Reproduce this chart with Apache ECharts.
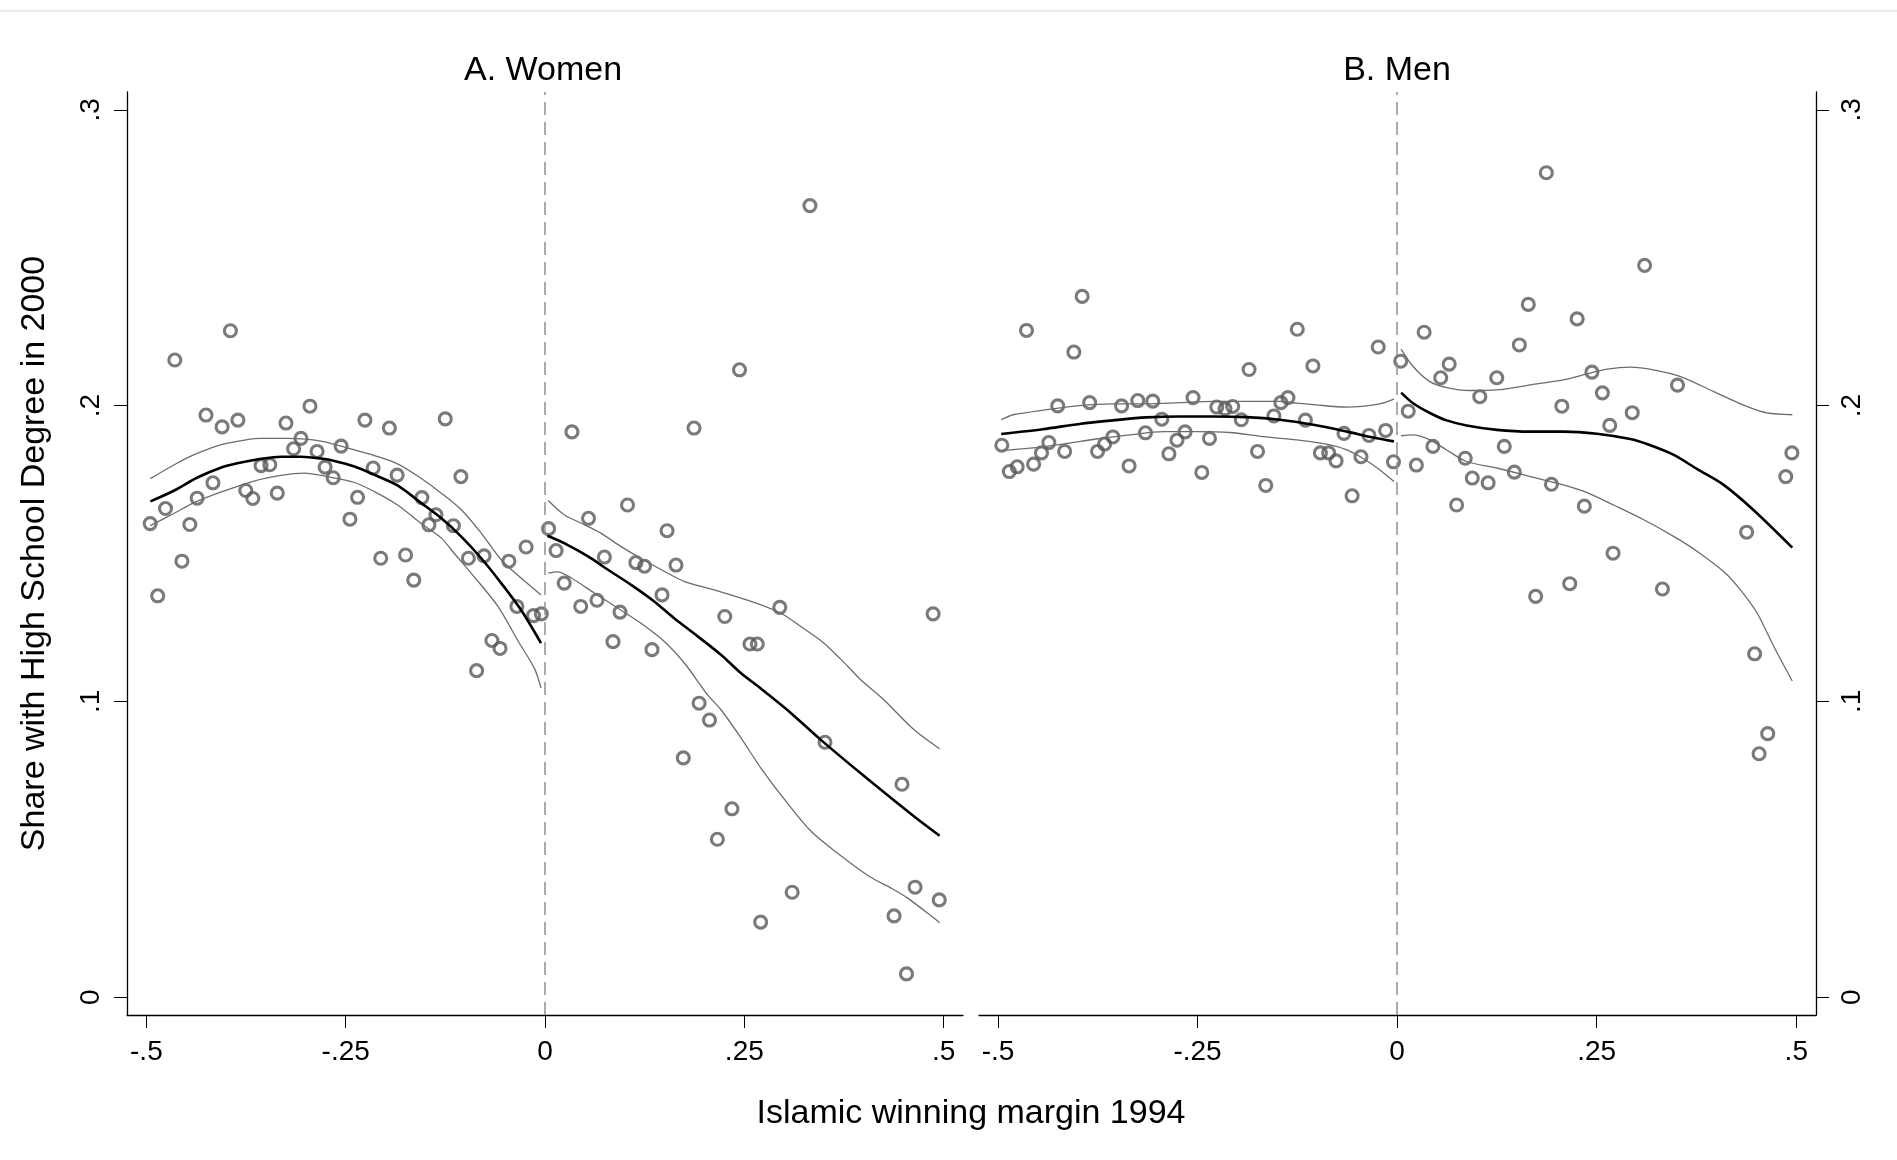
<!DOCTYPE html>
<html>
<head>
<meta charset="utf-8">
<script src="https://cdn.jsdelivr.net/npm/echarts@6/dist/echarts.min.js"></script>
<style>
html,body{margin:0;padding:0;background:#fff;}
#chart{width:1897px;height:1160px;}
</style>
</head>
<body>
<div id="chart"></div>
<script>
// ---- data ----
const marginBins = [-0.4952,-0.4858,-0.4760,-0.4643,-0.4554,-0.4455,-0.4363,-0.4252,-0.4165,-0.4050,
  -0.3946,-0.3852,-0.3753,-0.3665,-0.3561,-0.3452,-0.3358,-0.3249,-0.3153,-0.3061,
  -0.2948,-0.2859,-0.2758,-0.2657,-0.2557,-0.2447,-0.2351,-0.2259,-0.2156,-0.2060,
  -0.1952,-0.1855,-0.1749,-0.1646,-0.1544,-0.1456,-0.1368,-0.1251,-0.1149,-0.1055,
  -0.0961,-0.0858,-0.0765,-0.0666,-0.0564,-0.0453,-0.0353,-0.0237,-0.0144,-0.0046,
  0.0045,0.0139,0.0241,0.0338,0.0448,0.0546,0.0652,0.0745,0.0853,0.0941,
  0.1035,0.1140,0.1248,0.1342,0.1468,0.1531,0.1643,0.1735,0.1869,0.1933,
  0.2063,0.2162,0.2255,0.2345,0.2440,0.2571,0.2663,0.2705,0.2945,0.3100,
  0.3323,0.3512,0.4378,0.4478,0.4534,0.4642,0.4868,0.4945];

const womenShare = [0.1601,0.1357,0.1652,0.2154,0.1474,0.1598,0.1687,0.1968,0.1739,0.1928,
  0.2253,0.1951,0.1713,0.1686,0.1797,0.1800,0.1704,0.1941,0.1854,0.1889,
  0.1998,0.1845,0.1792,0.1756,0.1863,0.1616,0.1690,0.1951,0.1789,0.1484,
  0.1924,0.1765,0.1495,0.1410,0.1689,0.1597,0.1631,0.1955,0.1594,0.1760,
  0.1484,0.1104,0.1492,0.1206,0.1179,0.1474,0.1321,0.1522,0.1290,0.1296,
  0.1584,0.1510,0.1400,0.1911,0.1321,0.1619,0.1342,0.1488,0.1202,0.1302,
  0.1664,0.1469,0.1457,0.1175,0.1360,0.1577,0.1461,0.0809,0.1924,0.0994,
  0.0937,0.0534,0.1287,0.0637,0.2121,0.1194,0.1194,0.0254,0.1318,0.0355,
  0.2676,0.0862,0.0275,0.0720,0.0079,0.0372,0.1296,0.0329];

const menShare = [0.1866,0.1777,0.1793,0.2254,0.1802,0.1840,0.1875,0.1999,0.1845,0.2181,
  0.2369,0.2010,0.1845,0.1870,0.1894,0.1999,0.1796,0.2017,0.1908,0.2015,
  0.1954,0.1837,0.1883,0.1911,0.2027,0.1774,0.1889,0.1995,0.1989,0.1997,
  0.1952,0.2122,0.1845,0.1730,0.1965,0.2010,0.2027,0.2258,0.1951,0.2134,
  0.1840,0.1840,0.1813,0.1906,0.1695,0.1827,0.1899,0.2198,0.1916,0.1810,
  0.2150,0.1981,0.1799,0.2248,0.1862,0.2094,0.2140,0.1664,0.1822,0.1755,
  0.2030,0.1739,0.2094,0.1862,0.1775,0.2205,0.2342,0.1355,0.2787,0.1734,
  0.1998,0.1398,0.2293,0.1660,0.2113,0.2043,0.1933,0.1501,0.1976,0.2474,
  0.1380,0.2069,0.1572,0.1161,0.0823,0.0891,0.1760,0.1840];

// local polynomial fits and confidence bands, [margin, share]
const womenFitBelow = [[-0.495,0.1676],[-0.465,0.1713],[-0.436,0.1757],[-0.406,0.1791],[-0.386,0.1805],[-0.356,0.1820],[-0.331,0.1827],[-0.306,0.1827],[-0.281,0.1821],[-0.264,0.1813],[-0.239,0.1794],[-0.214,0.1766],[-0.185,0.1730],[-0.156,0.1672],[-0.130,0.1619],[-0.105,0.1557],[-0.080,0.1484],[-0.055,0.1400],[-0.030,0.1309],[-0.005,0.1197]];
const womenUpperBelow = [[-0.495,0.1753],[-0.465,0.1800],[-0.440,0.1834],[-0.406,0.1868],[-0.375,0.1884],[-0.356,0.1889],[-0.323,0.1889],[-0.281,0.1880],[-0.239,0.1850],[-0.214,0.1831],[-0.185,0.1803],[-0.156,0.1755],[-0.130,0.1704],[-0.105,0.1648],[-0.080,0.1569],[-0.055,0.1479],[-0.030,0.1417],[-0.005,0.1360]];
const womenLowerBelow = [[-0.495,0.1594],[-0.465,0.1636],[-0.440,0.1672],[-0.406,0.1708],[-0.365,0.1745],[-0.331,0.1764],[-0.302,0.1772],[-0.273,0.1760],[-0.239,0.1740],[-0.214,0.1709],[-0.185,0.1664],[-0.156,0.1603],[-0.130,0.1552],[-0.114,0.1501],[-0.089,0.1422],[-0.059,0.1321],[-0.034,0.1205],[-0.013,0.1110],[-0.005,0.1045]];
const womenFitAbove = [[0.003,0.1560],[0.024,0.1535],[0.054,0.1490],[0.079,0.1445],[0.108,0.1394],[0.137,0.1338],[0.162,0.1281],[0.192,0.1219],[0.221,0.1157],[0.246,0.1095],[0.271,0.1043],[0.304,0.0971],[0.346,0.0870],[0.401,0.0746],[0.463,0.0611],[0.495,0.0546]];
const womenUpperAbove = [[0.004,0.1679],[0.024,0.1631],[0.045,0.1603],[0.070,0.1569],[0.095,0.1524],[0.120,0.1484],[0.146,0.1445],[0.175,0.1405],[0.212,0.1377],[0.263,0.1334],[0.296,0.1298],[0.321,0.1253],[0.350,0.1197],[0.380,0.1118],[0.396,0.1073],[0.424,0.1008],[0.463,0.0904],[0.495,0.0840]];
const womenLowerAbove = [[0.004,0.1434],[0.016,0.1438],[0.033,0.1417],[0.062,0.1366],[0.095,0.1309],[0.120,0.1265],[0.150,0.1202],[0.175,0.1129],[0.204,0.1022],[0.221,0.0971],[0.246,0.0876],[0.271,0.0774],[0.304,0.0656],[0.334,0.0560],[0.367,0.0487],[0.407,0.0408],[0.434,0.0369],[0.455,0.0335],[0.495,0.0252]];

const menFitBelow = [[-0.496,0.1904],[-0.444,0.1920],[-0.398,0.1938],[-0.356,0.1950],[-0.314,0.1960],[-0.272,0.1963],[-0.231,0.1963],[-0.189,0.1961],[-0.147,0.1952],[-0.105,0.1935],[-0.063,0.1912],[-0.030,0.1892],[-0.004,0.1879]];
const menUpperBelow = [[-0.496,0.1952],[-0.481,0.1969],[-0.439,0.1986],[-0.398,0.2000],[-0.356,0.2006],[-0.314,0.2006],[-0.272,0.2010],[-0.231,0.2014],[-0.189,0.2014],[-0.147,0.2014],[-0.126,0.2008],[-0.105,0.2003],[-0.063,0.1995],[-0.022,0.2006],[-0.004,0.2022]];
const menLowerBelow = [[-0.496,0.1848],[-0.460,0.1856],[-0.419,0.1870],[-0.377,0.1887],[-0.335,0.1901],[-0.293,0.1912],[-0.251,0.1912],[-0.210,0.1909],[-0.168,0.1895],[-0.126,0.1884],[-0.084,0.1867],[-0.063,0.1850],[-0.043,0.1822],[-0.022,0.1783],[-0.004,0.1743]];
const menFitAbove = [[0.005,0.2044],[0.020,0.2008],[0.041,0.1975],[0.062,0.1950],[0.087,0.1933],[0.125,0.1918],[0.167,0.1912],[0.208,0.1912],[0.250,0.1905],[0.292,0.1887],[0.313,0.1870],[0.346,0.1834],[0.376,0.1785],[0.409,0.1732],[0.446,0.1648],[0.495,0.1520]];
const menUpperAbove = [[0.005,0.2191],[0.020,0.2132],[0.041,0.2081],[0.062,0.2061],[0.091,0.2051],[0.125,0.2053],[0.167,0.2070],[0.208,0.2087],[0.238,0.2107],[0.263,0.2123],[0.292,0.2130],[0.321,0.2121],[0.355,0.2098],[0.396,0.2048],[0.438,0.1997],[0.463,0.1975],[0.495,0.1969]];
const menLowerAbove = [[0.005,0.1898],[0.020,0.1901],[0.041,0.1884],[0.062,0.1850],[0.087,0.1811],[0.125,0.1789],[0.167,0.1760],[0.208,0.1732],[0.238,0.1706],[0.271,0.1664],[0.309,0.1614],[0.350,0.1552],[0.376,0.1507],[0.409,0.1439],[0.430,0.1377],[0.451,0.1298],[0.472,0.1185],[0.495,0.1069]];

const xTickValues = [-0.5, -0.25, 0, 0.25, 0.5];
const xTickLabels = ['-.5', '-.25', '0', '.25', '.5'];
const yTickValues = [0, 0.1, 0.2, 0.3];
const yTickLabels = ['0', '.1', '.2', '.3'];
const panelTitles = ['A. Women', 'B. Men'];
const xAxisTitle = 'Islamic winning margin 1994';
const yAxisTitle = 'Share with High School Degree in 2000';
const cutoff = 0;

// ---- chart ----
const FONT = "'Liberation Sans', Arial, Helvetica, sans-serif";
const labelFor = (values, labels) => v => {
  const i = values.findIndex(t => Math.abs(t - v) < 1e-9);
  return i >= 0 ? labels[i] : '';
};

function xAxisFor(gridIndex, min, max) {
  return {
    type: 'value', gridIndex, min, max,
    axisLine: { show: true, onZero: false, lineStyle: { color: '#000', width: 1.3 } },
    axisTick: { show: true, length: 13, customValues: xTickValues, lineStyle: { color: '#000', width: 1 } },
    axisLabel: { show: true, customValues: xTickValues, formatter: labelFor(xTickValues, xTickLabels),
      margin: 23, fontSize: 28, fontFamily: FONT, color: '#000' },
    splitLine: { show: false }
  };
}
function yAxisFor(gridIndex, position, withName) {
  const ax = {
    type: 'value', gridIndex, position, min: -0.006, max: 0.306,
    axisLine: { show: true, onZero: false, lineStyle: { color: '#000', width: 1.3 } },
    axisTick: { show: true, length: 13, customValues: yTickValues, lineStyle: { color: '#000', width: 1 } },
    axisLabel: { show: true, customValues: yTickValues, formatter: labelFor(yTickValues, yTickLabels),
      rotate: 90, margin: 22, fontSize: 28, fontFamily: FONT, color: '#000' },
    splitLine: { show: false }
  };
  if (withName) {
    ax.name = yAxisTitle;
    ax.nameLocation = 'middle';
    ax.nameGap = 75;
    ax.nameTextStyle = { fontSize: 34, fontFamily: FONT, color: '#000' };
  }
  return ax;
}

const scatterStyle = { color: 'rgba(0,0,0,0)', borderColor: '#595959', borderWidth: 3.1 };
const cutLine = {
  silent: true, symbol: ['none', 'none'], label: { show: false },
  lineStyle: { type: [13, 7], color: '#909090', width: 1.5 },
  data: [{ xAxis: cutoff }]
};
function fitSeries(idx, data, isFit) {
  return {
    type: 'line', xAxisIndex: idx, yAxisIndex: idx, data,
    showSymbol: false, symbol: 'none', smooth: 0.3, z: 4,
    lineStyle: isFit ? { color: '#000', width: 2.6 } : { color: '#6c6c6c', width: 1.3 }
  };
}

const panels = [
  { share: womenShare, lines: [[womenFitBelow, true], [womenUpperBelow, false], [womenLowerBelow, false],
                                [womenFitAbove, true], [womenUpperAbove, false], [womenLowerAbove, false]] },
  { share: menShare, lines: [[menFitBelow, true], [menUpperBelow, false], [menLowerBelow, false],
                              [menFitAbove, true], [menUpperAbove, false], [menLowerAbove, false]] }
];

const series = [];
panels.forEach((p, idx) => {
  series.push({
    type: 'scatter', xAxisIndex: idx, yAxisIndex: idx,
    data: marginBins.map((x, i) => [x, p.share[i]]),
    symbol: 'circle', symbolSize: 12, itemStyle: scatterStyle, z: 3,
    markLine: cutLine
  });
  p.lines.forEach(([d, isFit]) => series.push(fitSeries(idx, d, isFit)));
});

const chart = echarts.init(document.getElementById('chart'), null, { renderer: 'canvas' });
chart.setOption({
  animation: false,
  backgroundColor: '#fff',
  textStyle: { fontFamily: FONT },
  grid: [
    { left: 127, top: 92, width: 836, height: 923, containLabel: false, outerBoundsMode: 'none' },
    { left: 979, top: 92, width: 837, height: 923, containLabel: false, outerBoundsMode: 'none' }
  ],
  xAxis: [xAxisFor(0, -0.5243, 0.5243), xAxisFor(1, -0.5238, 0.5247)],
  yAxis: [yAxisFor(0, 'left', true), yAxisFor(1, 'right', false)],
  series,
  graphic: [
    { type: 'line', shape: { x1: 0, y1: 11, x2: 1897, y2: 11 }, style: { stroke: '#e7edeb', lineWidth: 2 }, silent: true },
    { type: 'text', x: 543, y: 71, style: { text: panelTitles[0], font: `34px ${FONT}`, fill: '#000', align: 'center', verticalAlign: 'middle' } },
    { type: 'text', x: 1397, y: 71, style: { text: panelTitles[1], font: `34px ${FONT}`, fill: '#000', align: 'center', verticalAlign: 'middle' } },
    { type: 'text', x: 971, y: 1114, style: { text: xAxisTitle, font: `34px ${FONT}`, fill: '#000', align: 'center', verticalAlign: 'middle' } }
  ]
});
</script>
</body>
</html>
